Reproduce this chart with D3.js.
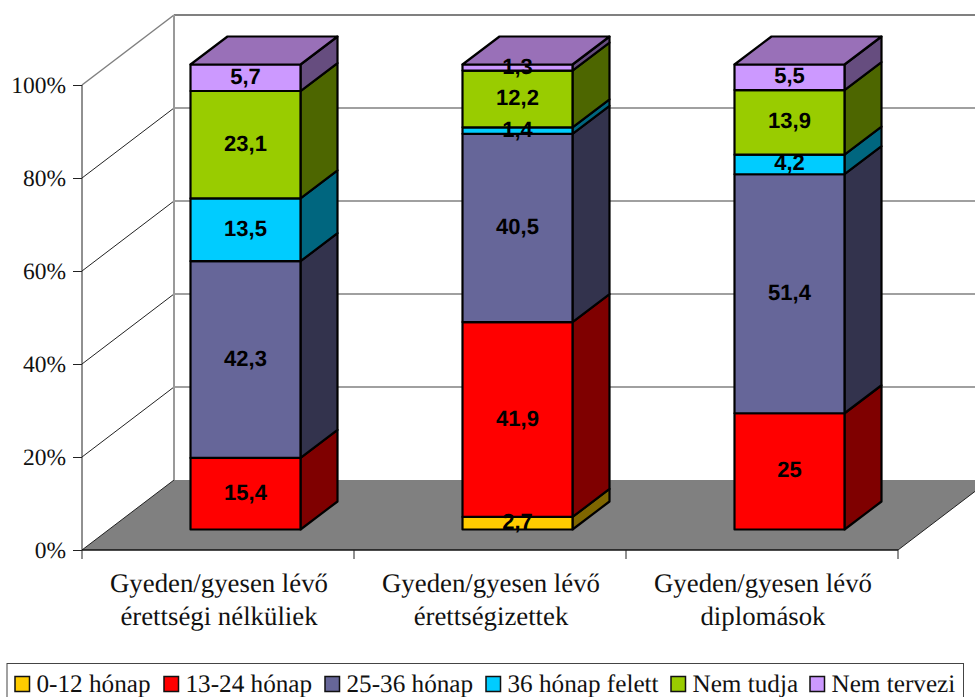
<!DOCTYPE html>
<html>
<head>
<meta charset="utf-8">
<script src="https://cdn.jsdelivr.net/npm/d3@7"></script>
<style>
  html, body { margin: 0; padding: 0; background: #fff; overflow: hidden; }
  svg { display: block; text-rendering: geometricPrecision; }
  .serif { font-family: "Liberation Serif", serif; fill: #111; }
  .val { font-family: "Liberation Sans", sans-serif; font-weight: bold; font-size: 22px; fill: #000; }
</style>
</head>
<body>
<div id="wrapper"></div>
<script>
const categories = [
  ['Gyeden/gyesen lévő', 'érettségi nélküliek'],
  ['Gyeden/gyesen lévő', 'érettségizettek'],
  ['Gyeden/gyesen lévő', 'diplomások']
];
const seriesNames = ['0-12 hónap', '13-24 hónap', '25-36 hónap', '36 hónap felett', 'Nem tudja', 'Nem tervezi'];
const frontColors = ['#ffcc00', '#ff0000', '#666699', '#00ccff', '#99cc00', '#cc99ff'];
const sideColors = ['#7f6600', '#7f0000', '#33334d', '#00667f', '#4d6600', '#664d7f'];
const topColor = '#9970b8';

const months0to12 = [0, 2.7, 0];
const months13to24 = [15.4, 41.9, 25];
const months25to36 = [42.3, 40.5, 51.4];
const monthsOver36 = [13.5, 1.4, 4.2];
const notKnown = [23.1, 12.2, 13.9];
const notPlanned = [5.7, 1.3, 5.5];
const yTicks = [0, 20, 40, 60, 80, 100];

const width = 975;
const height = 697;
const depthX = 92, depthY = -70;      // wall offset from the front plane
const barDepthX = 37, barDepthY = -28; // depth of one bar
const barOffsetX = 27.5, barOffsetY = -20.5; // front of the bars from the front plane

const svg = d3.select('#wrapper').append('svg')
  .attr('width', width)
  .attr('height', height);

const x = d3.scaleBand().domain([0, 1, 2]).range([82, 898]);
const y = d3.scaleLinear().domain([0, 100]).range([550, 85]);
const line = d3.line();

// walls and floor
const x0 = x.range()[0], x1 = x.range()[1];
svg.append('path')
  .attr('d', line([[x0, y(0)], [x0 + depthX, y(0) + depthY], [x1 + depthX, y(0) + depthY], [x1, y(0)]]) + 'Z')
  .attr('fill', '#808080');

const grid = svg.append('g');
yTicks.filter(t => t > 0).forEach(t => {
  grid.append('line')
    .attr('x1', x0 + depthX).attr('x2', x1 + depthX)
    .attr('y1', y(t) + depthY).attr('y2', y(t) + depthY)
    .attr('stroke', '#808080').attr('stroke-width', t === 100 ? 2 : 1.5);
});
yTicks.forEach(t => {
  grid.append('line')
    .attr('x1', x0).attr('x2', x0 + depthX)
    .attr('y1', y(t)).attr('y2', y(t) + depthY)
    .attr('stroke', t === 100 ? '#808080' : '#222').attr('stroke-width', t === 100 ? 1.5 : 1);
});
grid.append('line')
  .attr('x1', x0 + depthX).attr('x2', x0 + depthX)
  .attr('y1', y(100) + depthY).attr('y2', y(0) + depthY)
  .attr('stroke', '#999').attr('stroke-width', 2);
grid.append('line')
  .attr('x1', x1).attr('x2', x1 + depthX)
  .attr('y1', y(0)).attr('y2', y(0) + depthY)
  .attr('stroke', '#222').attr('stroke-width', 1);

// axes
const yAxis = d3.axisLeft(y).tickValues(yTicks).tickSize(9).tickPadding(7).tickFormat(d => d + '%');
svg.append('g').attr('transform', `translate(${x0},0)`).call(yAxis)
  .call(g => g.selectAll('path').remove())
  .call(g => g.selectAll('line').attr('stroke', '#222'))
  .call(g => g.selectAll('text').attr('class', 'serif').attr('font-size', 23.5).attr('font-family', null));
svg.append('line').attr('x1', x0).attr('x2', x0)
  .attr('y1', y(100)).attr('y2', y(0)).attr('stroke', '#222');

svg.append('line').attr('x1', x0).attr('x2', x1)
  .attr('y1', y(0)).attr('y2', y(0)).attr('stroke', '#111').attr('stroke-width', 1.5);
[0, 1, 2].forEach(i => {
  svg.append('line').attr('x1', x(i)).attr('x2', x(i))
    .attr('y1', y(0)).attr('y2', y(0) + 9).attr('stroke', '#222');
});
svg.append('line').attr('x1', x1).attr('x2', x1)
  .attr('y1', y(0)).attr('y2', y(0) + 9).attr('stroke', '#222');

categories.forEach((lines, i) => {
  const t = svg.append('text').attr('class', 'serif')
    .attr('text-anchor', 'middle').attr('font-size', 26.8);
  lines.forEach((s, j) => t.append('tspan')
    .attr('x', x(i) + x.bandwidth() / 2 + 1)
    .attr('y', 592 + j * 33)
    .text(s));
});

// stacked bars
const stackInput = categories.map((c, i) => ({
  i,
  s0: months0to12[i], s1: months13to24[i], s2: months25to36[i],
  s3: monthsOver36[i], s4: notKnown[i], s5: notPlanned[i]
}));
const stacked = d3.stack().keys(['s0', 's1', 's2', 's3', 's4', 's5'])(stackInput);
const barWidth = 110;
const barLeft = i => x(i) + x.bandwidth() / 2 - barWidth / 2 + barOffsetX;
const barY = v => y(v) + barOffsetY;
const labels = [];

stacked.forEach((layer, s) => {
  layer.forEach((d, i) => {
    if (d[1] - d[0] <= 0) return;
    const l = barLeft(i), r = l + barWidth;
    const top = barY(d[1]), bot = barY(d[0]);
    const g = svg.append('g').attr('stroke', '#000').attr('stroke-width', 2.2).attr('stroke-linejoin', 'round');
    g.append('path')
      .attr('d', line([[r, bot], [r + barDepthX, bot + barDepthY], [r + barDepthX, top + barDepthY], [r, top]]) + 'Z')
      .attr('fill', sideColors[s]);
    g.append('rect')
      .attr('x', l).attr('y', top)
      .attr('width', barWidth).attr('height', bot - top)
      .attr('fill', frontColors[s]);
    if (d[1] >= 99.99) {
      g.append('path')
        .attr('d', line([[l, top], [l + barDepthX, top + barDepthY], [r + barDepthX, top + barDepthY], [r, top]]) + 'Z')
        .attr('fill', topColor);
    }
    labels.push({ x: (l + r) / 2, y: (top + bot) / 2, v: d[1] - d[0] });
  });
});

// labels go last, the thin ones overlap the neighbouring segments
const fmt = v => String(Math.round(v * 10) / 10).replace('.', ',');
svg.selectAll('text.val').data(labels).enter().append('text')
  .attr('class', 'val')
  .attr('text-anchor', 'middle')
  .attr('x', d => d.x)
  .attr('y', d => d.y + 6)
  .text(d => fmt(d.v));

// legend
svg.append('rect')
  .attr('x', 7).attr('y', 663.5).attr('width', 956.5).attr('height', 40)
  .attr('fill', '#fff').attr('stroke', '#444').attr('stroke-width', 1);
const legendX = [15, 164, 325, 486, 671, 810];
seriesNames.forEach((name, s) => {
  svg.append('rect')
    .attr('x', legendX[s]).attr('y', 676.5)
    .attr('width', 14.5).attr('height', 15)
    .attr('fill', frontColors[s]).attr('stroke', '#111').attr('stroke-width', 1.5);
  svg.append('text').attr('class', 'serif')
    .attr('font-size', 25.2)
    .attr('x', legendX[s] + 21.5).attr('y', 692)
    .text(name);
});
</script>
</body>
</html>
